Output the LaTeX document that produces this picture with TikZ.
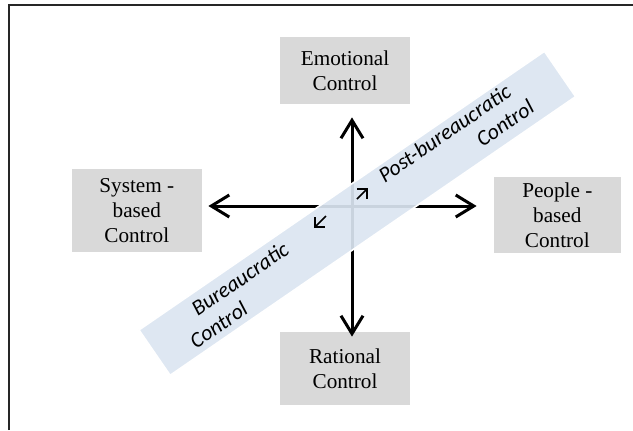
\documentclass[tikz,border=0pt]{standalone}
\usepackage{fontspec}
\setmainfont{Liberation Serif}
\newfontfamily\calib{Carlito}
\usetikzlibrary{arrows.meta}
\definecolor{bandblue}{HTML}{DBE5F1}

\begin{document}
\begin{tikzpicture}[x=.5pt,y=-.5pt,
	box/.style={fill=black!15,inner sep=0pt,align=center,font=\fontsize{10.6}{12.4}\selectfont},
	axis/.style={line width=1.5pt,{Straight Barb[length=9pt,width=11pt]}-{Straight Barb[length=9pt,width=11pt]}},
	band/.style={fill=bandblue,fill opacity=.92,draw=white,line width=.8pt},
	bandtext/.style={font=\calib\itshape\fontsize{10.9}{13}\selectfont,align=left,inner sep=0pt},
	small/.style={line width=.8pt,-{Straight Barb[length=3.5pt,width=7pt]}}]
	\useasboundingbox (0,0) rectangle (633,430);
	\draw [line width=1pt,black!85] (9,430) -- (9,5) -- (633,5);
	\node [box,minimum width=65pt,minimum height=33.5pt] (emo) at (345,70.5) {Emotional\\Control};
	\node [box,minimum width=64.8pt,minimum height=41.5pt] (sys) at (136.8,210.5) {System -\\based\\Control};
	\node [box,minimum width=63.8pt,minimum height=38pt] (peo) at (557.3,215) {People -\\based\\Control};
	\node [box,minimum width=65pt,minimum height=36.5pt] (rat) at (345,368.5) {Rational\\Control};
	\draw [axis] ([xshift=3.5pt,yshift=-6.5pt]emo.south) -- ([xshift=3.5pt,yshift=-2.5pt]rat.north);
	\draw [axis] ([xshift=3.2pt,yshift=2.25pt]sys.east) -- ([xshift=-8.25pt,yshift=4.5pt]peo.west);
	\node [band,rotate=34.5,minimum width=246pt,minimum height=27.5pt] (bnd) at (357.3,213.3) {};
	\node [bandtext,rotate=34.5] (bur) at (239,295) {\hspace*{10pt}Bureaucratic\\Control};
	\node [bandtext,rotate=34.5] (pbc) at (456,141) {Post-bureaucratic\\\hspace*{50.4pt}Control};
	\coordinate (upa) at (357,199);
	\coordinate (upb) at (368,188);
	\coordinate (lowa) at (326,216);
	\coordinate (lowb) at (314,228);
	\draw [small] (upa) -- (upb);
	\draw [small] (lowa) -- (lowb);
\end{tikzpicture}
\end{document}
